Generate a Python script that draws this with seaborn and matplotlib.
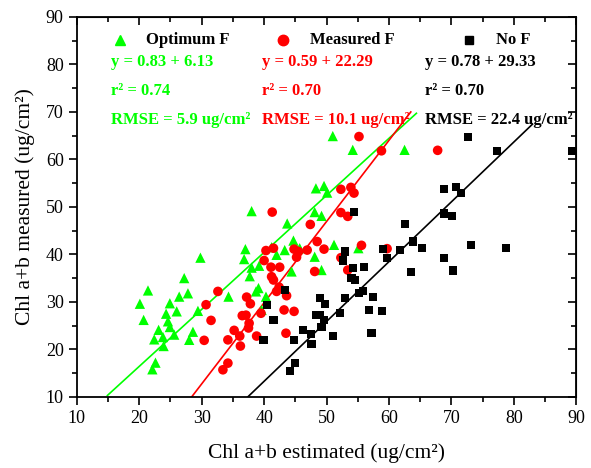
import numpy as np
import pandas as pd
import matplotlib
matplotlib.use("Agg")
import matplotlib.pyplot as plt
import seaborn as sns

# Optimum F (green triangles)
opt_est = [20.1, 20.7, 21.4, 22.1, 22.6, 22.4, 23.1, 23.8, 23.9, 24.3, 24.6, 24.9,
           24.9, 25.6, 26.0, 26.4, 27.2, 27.8, 28.0, 28.6, 29.4, 29.8, 34.3, 36.8,
           37.0, 37.7, 38.0, 38.0, 38.7, 39.1, 39.2, 39.6, 40.3, 41.2, 42.0, 43.3,
           43.7, 44.4, 44.7, 45.7, 48.1, 48.1, 48.3, 49.2, 49.2, 49.6, 50.1, 51.0,
           51.2, 54.2, 55.1, 62.5]
opt_meas = [29.6, 26.2, 32.4, 15.8, 17.2, 22.1, 24.1, 22.6, 20.7, 27.5, 25.9, 29.7,
            24.7, 23.1, 28.0, 31.1, 35.0, 31.8, 22.0, 23.7, 28.1, 39.3, 31.1, 39.0,
            41.1, 35.4, 37.2, 49.1, 32.2, 32.9, 37.6, 28.3, 31.1, 41.5, 39.9, 40.9,
            46.5, 36.4, 42.9, 41.3, 39.5, 48.9, 53.9, 48.1, 36.7, 54.4, 53.0, 64.9,
            42.0, 62.0, 41.3, 62.0]

# Measured F (red circles)
mea_est = [30.4, 30.7, 31.5, 32.6, 33.4, 34.2, 34.2, 35.2, 36.1, 36.2, 36.5, 37.1,
           37.2, 37.5, 37.6, 37.8, 38.8, 39.5, 40.0, 40.3, 41.1, 41.2, 41.3, 41.5,
           41.5, 42.0, 42.4, 42.5, 43.2, 43.5, 43.6, 44.8, 44.8, 45.2, 45.5, 46.9,
           47.4, 48.1, 48.5, 49.6, 52.3, 52.3, 52.3, 53.4, 53.4, 53.9, 54.4, 55.2,
           55.6, 58.8, 59.7, 67.8]
mea_meas = [21.9, 29.4, 26.1, 32.2, 15.7, 17.1, 22.0, 24.0, 22.8, 20.7, 27.1, 27.2,
            31.0, 24.5, 25.5, 29.6, 22.8, 27.6, 38.7, 40.8, 37.3, 35.3, 48.9, 34.6,
            41.3, 32.2, 33.1, 37.3, 28.3, 23.4, 31.3, 28.0, 41.1, 39.4, 40.6, 40.9,
            46.3, 36.4, 42.7, 41.1, 53.7, 48.8, 39.3, 48.0, 36.7, 54.1, 52.9, 64.8,
            41.9, 61.8, 41.2, 61.9]

# No F (black squares)
nof_est = [39.9, 40.5, 41.5, 43.3, 44.1, 44.8, 45.0, 46.3, 47.5, 47.6, 48.4, 48.9,
           49.0, 49.2, 49.6, 49.8, 51.0, 52.1, 52.6, 52.9, 52.9, 54.0, 54.3, 54.4,
           54.6, 55.2, 55.8, 56.0, 56.8, 57.2, 57.5, 58.9, 59.0, 59.7, 61.8, 62.5,
           63.5, 63.9, 65.3, 68.8, 68.8, 68.8, 70.1, 70.2, 70.8, 71.6, 72.7, 73.1,
           77.3, 78.7, 89.3]
nof_meas = [22.0, 29.4, 26.2, 32.5, 15.5, 22.0, 17.1, 24.1, 23.3, 21.2, 27.3, 27.3,
            30.9, 24.8, 26.2, 29.6, 22.8, 27.7, 38.7, 40.6, 30.9, 35.0, 37.1, 48.9,
            34.6, 31.8, 32.2, 37.3, 28.3, 23.5, 31.1, 28.0, 41.1, 39.2, 41.0, 46.4,
            36.3, 42.7, 41.3, 53.7, 48.6, 39.3, 48.0, 36.6, 54.1, 52.9, 64.7, 41.9,
            61.8, 41.3, 61.8]

groups = ["Optimum F", "Measured F", "No F"]
colors = ["#00ff00", "#ff0000", "#000000"]

# drawn regression lines: slope, intercept, x range
line_slope = [1.20, 1.709, 1.259]
line_icpt = [-7.58, -38.54, -37.08]
line_xmin = [14.9, 28.4, 37.4]
line_xmax = [64.4, 63.5, 83.0]

eq_text = ["y = 0.83 + 6.13", "y = 0.59 + 22.29", "y = 0.78 + 29.33"]
r2_text = ["r\u00b2 = 0.74", "r\u00b2 = 0.70", "r\u00b2 = 0.70"]
rmse_text = ["RMSE = 5.9 ug/cm\u00b2", "RMSE = 10.1 ug/cm\u00b2", "RMSE = 22.4 ug/cm\u00b2"]

df = pd.DataFrame({
    "estimated": opt_est + mea_est + nof_est,
    "measured": opt_meas + mea_meas + nof_meas,
    "group": ["Optimum F"] * len(opt_est) + ["Measured F"] * len(mea_est)
             + ["No F"] * len(nof_est),
})

plt.rcParams["font.family"] = ["Liberation Serif", "DejaVu Serif"]

fig = plt.figure(figsize=(5.91, 4.68), dpi=100)
ax = fig.add_axes([0.130, 0.152, 0.845, 0.812])

palette = dict(zip(groups, colors))
markers = {"Optimum F": "^", "Measured F": "o", "No F": "s"}
sizes = {"Optimum F": 55, "Measured F": 48, "No F": 34}
for g in groups:
    sub = df[df["group"] == g]
    sns.scatterplot(data=sub, x="estimated", y="measured", color=palette[g],
                    marker=markers[g], s=sizes[g], edgecolor="none", ax=ax,
                    legend=False, zorder=3)

for i, g in enumerate(groups):
    lx = np.array([line_xmin[i], line_xmax[i]])
    ly = line_slope[i] * lx + line_icpt[i]
    sns.lineplot(x=lx, y=ly, color=colors[i], lw=1.2, ax=ax, zorder=2)

ax.set_xlim(10, 90)
ax.set_ylim(10, 90)
ax.set_xticks(np.arange(10, 91, 10))
ax.set_yticks(np.arange(10, 91, 10))
ax.set_xticks(np.arange(15, 90, 10), minor=True)
ax.set_yticks(np.arange(15, 90, 10), minor=True)
ax.tick_params(which="major", length=6, width=1.2, labelsize=13, direction="out")
ax.tick_params(which="minor", length=3.5, width=1.2, direction="out")
for sp in ax.spines.values():
    sp.set_linewidth(1.3)

# mirrored ticks on top/right pointing inward
sec_x = ax.secondary_xaxis("top")
sec_x.set_xticks(np.arange(10, 91, 10))
sec_x.set_xticks(np.arange(15, 90, 10), minor=True)
sec_x.tick_params(which="major", direction="in", length=6, width=1.2, labeltop=False)
sec_x.tick_params(which="minor", direction="in", length=3.5, width=1.2)
sec_y = ax.secondary_yaxis("right")
sec_y.set_yticks(np.arange(10, 91, 10))
sec_y.set_yticks(np.arange(15, 90, 10), minor=True)
sec_y.tick_params(which="major", direction="in", length=6, width=1.2, labelright=False)
sec_y.tick_params(which="minor", direction="in", length=3.5, width=1.2)

ax.set_xlabel("Chl a+b estimated (ug/cm\u00b2)", fontsize=15.5, labelpad=12)
ax.set_ylabel("Chl a+b measured (ug/cm\u00b2)", fontsize=15.5, labelpad=8)

# legend row and statistics
mk_x = [0.086, 0.413, 0.786]
lab_x = [0.138, 0.467, 0.839]
col_x = [0.068, 0.370, 0.697]
for i, g in enumerate(groups):
    ax.plot(mk_x[i], 0.939, marker=markers[g], color=colors[i], ms=7.5 if i < 2 else 6,
            ls="none", transform=ax.transAxes, clip_on=False)
    ax.text(lab_x[i], 0.939, g, transform=ax.transAxes, fontsize=12,
            fontweight="bold", va="center", ha="left")
    ax.text(col_x[i], 0.882, eq_text[i], transform=ax.transAxes, fontsize=12,
            fontweight="bold", va="center", color=colors[i])
    ax.text(col_x[i], 0.805, r2_text[i], transform=ax.transAxes, fontsize=12,
            fontweight="bold", va="center", color=colors[i])
    ax.text(col_x[i], 0.729, rmse_text[i], transform=ax.transAxes, fontsize=12,
            fontweight="bold", va="center", color=colors[i])

fig.savefig("out.png", dpi=100)
